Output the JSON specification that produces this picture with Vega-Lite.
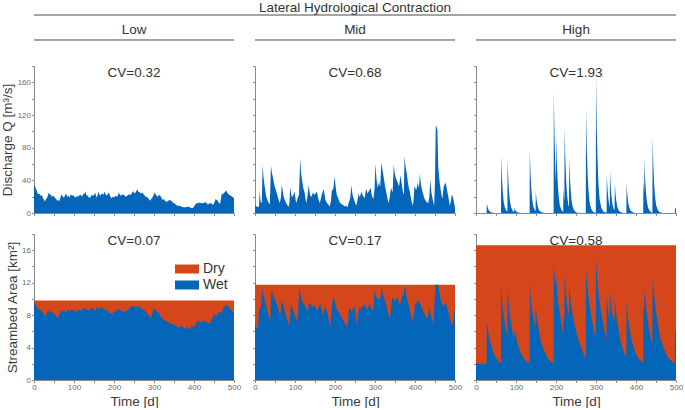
{
"$schema": "https://vega.github.io/schema/vega-lite/v6.json",
"padding": {"left": 0, "top": 0, "right": 0, "bottom": 0},
"background": "white",
"bounds": "flush",
"spacing": 5,
"config": {
 "view": {"stroke": null},
 "font": "Liberation Sans",
 "axis": {"domainColor": "#8a8a8a", "tickColor": "#8a8a8a", "tickSize": 2.5, "labelFontSize": 8, "labelColor": "#6b6b6b", "labelPadding": 1, "titleFontSize": 13.5, "titleFontWeight": "normal", "titleColor": "#3a3a3a", "grid": false, "labelFlush": false, "labelOverlap": false, "labelBound": false, "tickCount": 50, "format": "d"},
 "axisY": {"titlePadding": 2.5},
 "axisX": {"titlePadding": 3},
 "text": {"font": "Liberation Sans"}
},
"datasets": {
 "cv": [
  {"c": "Low", "r": "Q", "label": "CV=0.32"}, {"c": "Mid", "r": "Q", "label": "CV=0.68"}, {"c": "High", "r": "Q", "label": "CV=1.93"},
  {"c": "Low", "r": "A", "label": "CV=0.07"}, {"c": "Mid", "r": "A", "label": "CV=0.17"}, {"c": "High", "r": "A", "label": "CV=0.58"}
 ],
 "dL": [{"t": 0, "a": 9.8}, {"t": 500, "a": 9.8}],
 "dM": [{"t": 0, "a": 11.75}, {"t": 500, "a": 11.75}],
 "dH": [{"t": 0, "a": 16.6}, {"t": 500, "a": 16.6}],
 "qL": [
  {"t":0,"q":34},{"t":2,"q":33},{"t":4,"q":31},{"t":7,"q":27},{"t":10,"q":23},{"t":13,"q":24},{"t":16,"q":21},{"t":19,"q":22},{"t":22,"q":19},{"t":25,"q":16},{"t":27,"q":14},{"t":30,"q":17},{"t":33,"q":19},{"t":35,"q":22},{"t":37,"q":25},{"t":40,"q":22},{"t":42,"q":23},{"t":44,"q":20},{"t":48,"q":21},{"t":52,"q":19},{"t":55,"q":17},{"t":58,"q":15},{"t":61,"q":16},{"t":63,"q":14},{"t":66,"q":19},{"t":69,"q":23},{"t":72,"q":20},{"t":75,"q":19},{"t":78,"q":22},{"t":80,"q":24},{"t":83,"q":20},{"t":86,"q":21},{"t":89,"q":19},{"t":92,"q":23},{"t":95,"q":21},{"t":98,"q":22},{"t":101,"q":20},{"t":105,"q":19},{"t":108,"q":21},{"t":111,"q":20},{"t":114,"q":22},{"t":117,"q":22},{"t":120,"q":20},{"t":124,"q":24},{"t":126,"q":23},{"t":128,"q":26.5},{"t":131,"q":22},{"t":134,"q":21},{"t":137,"q":19},{"t":141,"q":19},{"t":144,"q":22},{"t":148,"q":21},{"t":151,"q":23},{"t":153,"q":25},{"t":155,"q":21},{"t":157,"q":19},{"t":160,"q":24},{"t":162,"q":26},{"t":164,"q":22},{"t":166,"q":21},{"t":168,"q":23},{"t":171,"q":24},{"t":174,"q":22},{"t":176,"q":26.5},{"t":178,"q":24},{"t":181,"q":21},{"t":184,"q":23},{"t":187,"q":25},{"t":190,"q":21},{"t":193,"q":18},{"t":196,"q":20},{"t":200,"q":19},{"t":204,"q":21},{"t":208,"q":20},{"t":210,"q":22},{"t":212,"q":25},{"t":215,"q":22},{"t":218,"q":21},{"t":221,"q":23},{"t":225,"q":22},{"t":229,"q":20},{"t":233,"q":21},{"t":237,"q":23},{"t":241,"q":22},{"t":244,"q":24},{"t":248,"q":27},{"t":251,"q":24},{"t":254,"q":25},{"t":256,"q":27},{"t":258,"q":29},{"t":261,"q":26},{"t":265,"q":25},{"t":268,"q":24},{"t":271,"q":25},{"t":274,"q":23},{"t":277,"q":21},{"t":280,"q":20},{"t":284,"q":19},{"t":287,"q":17},{"t":290,"q":15},{"t":293,"q":17},{"t":296,"q":19},{"t":299,"q":22},{"t":302,"q":25},{"t":305,"q":22},{"t":309,"q":20},{"t":312,"q":22},{"t":316,"q":21},{"t":319,"q":18},{"t":322,"q":16},{"t":325,"q":17},{"t":327,"q":15},{"t":330,"q":14},{"t":334,"q":14},{"t":338,"q":16},{"t":343,"q":15},{"t":347,"q":13},{"t":351,"q":12},{"t":355,"q":10},{"t":359,"q":9},{"t":363,"q":9},{"t":368,"q":8},{"t":372,"q":7},{"t":376,"q":7},{"t":380,"q":7},{"t":385,"q":8},{"t":389,"q":7},{"t":393,"q":6},{"t":397,"q":6},{"t":400,"q":8},{"t":403,"q":10},{"t":406,"q":12},{"t":410,"q":12},{"t":414,"q":13},{"t":418,"q":12},{"t":422,"q":12},{"t":426,"q":13},{"t":431,"q":13},{"t":433,"q":11},{"t":435,"q":10},{"t":438,"q":12},{"t":441,"q":12},{"t":445,"q":11},{"t":448,"q":10},{"t":451,"q":13},{"t":454,"q":17},{"t":457,"q":16},{"t":459,"q":15},{"t":462,"q":13},{"t":465,"q":11},{"t":467,"q":16},{"t":469,"q":23},{"t":472,"q":23},{"t":476,"q":25},{"t":478,"q":26},{"t":480,"q":28},{"t":483,"q":25},{"t":486,"q":23},{"t":489,"q":22},{"t":492,"q":21},{"t":496,"q":20},{"t":500,"q":18}
 ],
 "qM": [
  {"t":0,"q":9},{"t":4,"q":8},{"t":7.5,"q":7.5},{"t":10,"q":8},{"t":11.7,"q":27},{"t":14,"q":14},{"t":17,"q":12},{"t":19,"q":59},{"t":21,"q":45},{"t":24,"q":33},{"t":28,"q":20},{"t":32.5,"q":14},{"t":37,"q":10},{"t":40,"q":58},{"t":42,"q":50},{"t":45,"q":43},{"t":49,"q":33},{"t":53,"q":27},{"t":58,"q":18},{"t":62,"q":12},{"t":65,"q":20},{"t":67,"q":35},{"t":70,"q":25},{"t":72,"q":19},{"t":78,"q":12},{"t":84,"q":7.5},{"t":86,"q":12},{"t":88,"q":31},{"t":92,"q":19},{"t":96,"q":22},{"t":99,"q":26},{"t":101,"q":18},{"t":103,"q":12},{"t":107,"q":19},{"t":110,"q":22},{"t":113,"q":67},{"t":115,"q":50},{"t":118,"q":39},{"t":121,"q":30},{"t":124,"q":25},{"t":128,"q":12},{"t":131,"q":20},{"t":134,"q":34},{"t":138,"q":21},{"t":141,"q":20},{"t":145,"q":25},{"t":148,"q":22},{"t":151,"q":24},{"t":155,"q":26},{"t":158,"q":18},{"t":162,"q":12},{"t":165,"q":18},{"t":167,"q":23},{"t":172,"q":29},{"t":176,"q":16},{"t":180,"q":12},{"t":184,"q":10},{"t":187,"q":8},{"t":190,"q":15},{"t":192,"q":27},{"t":196,"q":30},{"t":199,"q":45},{"t":201,"q":35},{"t":204,"q":23},{"t":208,"q":18},{"t":212,"q":13},{"t":216,"q":11},{"t":220,"q":10},{"t":224,"q":8},{"t":228,"q":9},{"t":231,"q":7},{"t":234,"q":12},{"t":238,"q":18},{"t":241,"q":34},{"t":244,"q":22},{"t":247,"q":17},{"t":253,"q":9},{"t":256,"q":15},{"t":259,"q":24},{"t":262,"q":19},{"t":266,"q":26},{"t":270,"q":21},{"t":274,"q":18},{"t":278,"q":30},{"t":281,"q":24},{"t":285,"q":27},{"t":289,"q":31},{"t":292,"q":21},{"t":296,"q":17},{"t":299,"q":30},{"t":301,"q":60},{"t":304,"q":40},{"t":307,"q":31},{"t":310,"q":38},{"t":313,"q":32},{"t":316,"q":62},{"t":318,"q":55},{"t":321,"q":46},{"t":325,"q":33},{"t":328,"q":26},{"t":331,"q":18},{"t":334,"q":12},{"t":337,"q":20},{"t":340,"q":31},{"t":344,"q":25},{"t":347,"q":59},{"t":349,"q":50},{"t":352,"q":43},{"t":357,"q":37},{"t":360,"q":32},{"t":364,"q":46},{"t":367,"q":35},{"t":370,"q":25},{"t":372,"q":22},{"t":374,"q":70},{"t":376,"q":58},{"t":379,"q":50},{"t":383,"q":35},{"t":387,"q":26},{"t":391,"q":15},{"t":395,"q":9},{"t":397,"q":20},{"t":399,"q":33},{"t":403,"q":28},{"t":407,"q":37},{"t":410,"q":30},{"t":412,"q":48},{"t":414,"q":38},{"t":417,"q":29},{"t":421,"q":22},{"t":424,"q":17},{"t":428,"q":14},{"t":433,"q":12},{"t":436,"q":20},{"t":438,"q":41},{"t":441,"q":25},{"t":444,"q":17},{"t":448,"q":9},{"t":450,"q":40},{"t":452,"q":108},{"t":454,"q":105},{"t":456,"q":101},{"t":458,"q":58},{"t":461,"q":40},{"t":464,"q":29},{"t":468,"q":17},{"t":470,"q":24},{"t":472,"q":33},{"t":477,"q":37},{"t":480,"q":28},{"t":483,"q":21},{"t":487,"q":9},{"t":490,"q":15},{"t":492,"q":23},{"t":495,"q":19},{"t":498,"q":12},{"t":500,"q":6}
 ],
 "qH": [
  {"t":0,"q":0},{"t":26.5,"q":0},{"t":27,"q":12},{"t":28,"q":9.4},{"t":29,"q":7.2},{"t":31,"q":4.4},{"t":33,"q":2.6},{"t":36,"q":1.2},{"t":40,"q":0.5},{"t":45,"q":0.1},{"t":52,"q":0},
  {"t":62.5,"q":0},{"t":63,"q":70},{"t":64,"q":55},{"t":65,"q":42},{"t":67,"q":26},{"t":69,"q":15},{"t":72,"q":7},{"t":76,"q":2.8},{"t":78.5,"q":1.5},
  {"t":79,"q":65},{"t":80,"q":51},{"t":81,"q":39},{"t":83,"q":24},{"t":85,"q":14},{"t":88,"q":6.5},{"t":92,"q":2.6},{"t":95.5,"q":1.2},
  {"t":96,"q":6},{"t":97,"q":4.7},{"t":98,"q":3.6},{"t":100,"q":2.2},{"t":102,"q":1.3},{"t":105,"q":0.6},{"t":109,"q":0.2},{"t":114,"q":0.06},{"t":121,"q":0},
  {"t":134,"q":0},{"t":134.5,"q":77},{"t":135.5,"q":60},{"t":136.5,"q":46},{"t":138.5,"q":28},{"t":140.5,"q":17},{"t":143.5,"q":7.7},{"t":147.5,"q":3.1},{"t":149,"q":2.4},
  {"t":149.5,"q":27},{"t":150.5,"q":21},{"t":151.5,"q":16},{"t":153.5,"q":10},{"t":155.5,"q":6},{"t":158.5,"q":2.7},{"t":162.5,"q":1.1},{"t":167.5,"q":0.3},{"t":175,"q":0},
  {"t":194,"q":0},{"t":194.5,"q":150},{"t":195.5,"q":117},{"t":196.5,"q":90},{"t":198.5,"q":55},{"t":200,"q":38},
  {"t":200.5,"q":95},{"t":201.5,"q":74},{"t":202.5,"q":57},{"t":204.5,"q":35},{"t":206.5,"q":21},{"t":209.5,"q":9.5},{"t":213.5,"q":3.8},{"t":218,"q":1.3},
  {"t":218.5,"q":29},{"t":219.5,"q":23},{"t":220.5,"q":17},{"t":221,"q":15},
  {"t":221.5,"q":106},{"t":222.5,"q":83},{"t":223.5,"q":64},{"t":225.5,"q":39},{"t":227.5,"q":23},{"t":230.5,"q":11},{"t":232.5,"q":7},
  {"t":233,"q":69},{"t":234,"q":54},{"t":235,"q":41},{"t":237,"q":26},{"t":239,"q":15},{"t":242,"q":7},{"t":246,"q":2.8},{"t":251,"q":0.7},{"t":258,"q":0},
  {"t":274.5,"q":0},{"t":275,"q":130},{"t":276,"q":101},{"t":277,"q":78},{"t":279,"q":48},{"t":281,"q":29},{"t":284,"q":13},{"t":288,"q":5.2},{"t":293,"q":1.3},{"t":299.5,"q":0.3},
  {"t":300,"q":169},{"t":301,"q":132},{"t":302,"q":101},{"t":304,"q":63},{"t":306,"q":37},{"t":309,"q":17},{"t":313,"q":6.8},{"t":318,"q":1.7},{"t":326.5,"q":0.3},
  {"t":327,"q":47},{"t":328,"q":37},{"t":329,"q":28},{"t":331,"q":17},{"t":333,"q":10},{"t":334.5,"q":7},
  {"t":335,"q":52},{"t":336,"q":41},{"t":337,"q":31},{"t":339,"q":19},{"t":341,"q":11},{"t":344,"q":5.2},{"t":346.5,"q":3.5},
  {"t":347,"q":37},{"t":348,"q":29},{"t":349,"q":22},{"t":351,"q":14},{"t":353,"q":8},{"t":356,"q":3.7},{"t":360,"q":1.5},{"t":365,"q":0.4},{"t":372,"q":0},
  {"t":376,"q":0},{"t":376.5,"q":36},{"t":377.5,"q":28},{"t":378.5,"q":22},{"t":380.5,"q":13},{"t":382.5,"q":8},{"t":385.5,"q":3.6},{"t":389.5,"q":1.4},{"t":394.5,"q":0.4},{"t":401,"q":0},
  {"t":418,"q":0},{"t":418.5,"q":40},{"t":419.5,"q":31},{"t":420.5,"q":24},
  {"t":421,"q":67},{"t":422,"q":52},{"t":423,"q":40},{"t":425,"q":25},{"t":427,"q":15},{"t":430,"q":6.7},{"t":434,"q":2.7},{"t":439,"q":0.7},{"t":441,"q":0.4},
  {"t":441.5,"q":93},{"t":442.5,"q":73},{"t":443.5,"q":56},{"t":445.5,"q":34},{"t":447.5,"q":20},{"t":450.5,"q":9.3},{"t":454.5,"q":3.7},{"t":459.5,"q":0.9},{"t":466.5,"q":0},
  {"t":497,"q":0},{"t":497.5,"q":7},{"t":500,"q":5}
 ],
 "aL": [
  {"t":0,"a":9.7},{"t":3,"a":9.4},{"t":6,"a":9.0},{"t":10,"a":8.8},{"t":14,"a":8.6},{"t":18,"a":8.5},{"t":23,"a":8.3},{"t":26,"a":8.0},{"t":29,"a":7.8},{"t":32,"a":8.2},{"t":35,"a":8.6},{"t":38,"a":8.4},{"t":41,"a":8.3},{"t":44,"a":8.5},{"t":48,"a":8.2},{"t":52,"a":8.1},{"t":55,"a":7.9},{"t":60,"a":7.6},{"t":63,"a":8.0},{"t":66,"a":8.5},{"t":70,"a":8.4},{"t":73,"a":8.6},{"t":76,"a":8.5},{"t":80,"a":8.3},{"t":83,"a":8.6},{"t":86,"a":8.7},{"t":91,"a":8.5},{"t":94,"a":8.7},{"t":98,"a":8.6},{"t":102,"a":8.5},{"t":106,"a":8.4},{"t":110,"a":8.6},{"t":114,"a":8.7},{"t":118,"a":8.5},{"t":121,"a":8.6},{"t":124,"a":8.8},{"t":127,"a":8.9},{"t":130,"a":8.6},{"t":133,"a":8.7},{"t":137,"a":8.6},{"t":140,"a":8.5},{"t":144,"a":8.8},{"t":147,"a":8.9},{"t":150,"a":8.6},{"t":153,"a":8.5},{"t":158,"a":9.0},{"t":161,"a":8.8},{"t":165,"a":8.8},{"t":168,"a":9.0},{"t":172,"a":8.9},{"t":176,"a":8.6},{"t":180,"a":8.7},{"t":184,"a":8.5},{"t":188,"a":8.3},{"t":192,"a":8.2},{"t":197,"a":8.2},{"t":201,"a":8.4},{"t":205,"a":8.5},{"t":208,"a":8.7},{"t":211,"a":8.8},{"t":214,"a":8.6},{"t":217,"a":8.6},{"t":221,"a":8.4},{"t":225,"a":8.4},{"t":229,"a":8.5},{"t":234,"a":8.6},{"t":238,"a":8.8},{"t":242,"a":9.0},{"t":245,"a":9.1},{"t":249,"a":9.2},{"t":252,"a":9.0},{"t":255,"a":8.9},{"t":258,"a":9.1},{"t":261,"a":9.1},{"t":265,"a":8.9},{"t":270,"a":8.8},{"t":274,"a":8.6},{"t":278,"a":8.5},{"t":282,"a":8.2},{"t":286,"a":8.0},{"t":289,"a":7.8},{"t":292,"a":7.6},{"t":296,"a":8.3},{"t":299,"a":8.8},{"t":303,"a":8.6},{"t":306,"a":8.5},{"t":309,"a":8.4},{"t":312,"a":8.3},{"t":316,"a":7.9},{"t":320,"a":7.6},{"t":324,"a":7.5},{"t":328,"a":7.3},{"t":332,"a":7.2},{"t":337,"a":7.1},{"t":341,"a":7.0},{"t":345,"a":6.9},{"t":350,"a":6.8},{"t":354,"a":6.7},{"t":358,"a":6.6},{"t":362,"a":6.5},{"t":366,"a":6.7},{"t":370,"a":6.6},{"t":375,"a":6.4},{"t":379,"a":6.3},{"t":382,"a":6.5},{"t":384,"a":6.5},{"t":389,"a":6.2},{"t":392,"a":6.5},{"t":395,"a":6.7},{"t":398,"a":6.6},{"t":401,"a":6.5},{"t":404,"a":6.9},{"t":408,"a":7.3},{"t":412,"a":7.2},{"t":416,"a":7.1},{"t":420,"a":7.3},{"t":425,"a":7.3},{"t":429,"a":7.2},{"t":433,"a":7.1},{"t":437,"a":7.0},{"t":440,"a":6.9},{"t":443,"a":7.3},{"t":446,"a":7.6},{"t":451,"a":8.2},{"t":456,"a":7.8},{"t":459,"a":8.1},{"t":462,"a":8.4},{"t":465,"a":8.3},{"t":468,"a":8.3},{"t":472,"a":8.7},{"t":475,"a":9.0},{"t":478,"a":9.2},{"t":482,"a":9.3},{"t":485,"a":9.1},{"t":488,"a":8.9},{"t":493,"a":8.6},{"t":497,"a":8.4},{"t":500,"a":8.2}
 ],
 "aM": [
  {"t":0,"a":6.8},{"t":3,"a":6.6},{"t":5,"a":6.3},{"t":8,"a":6.5},{"t":10,"a":8.8},{"t":13,"a":8.6},{"t":16,"a":9.5},{"t":18,"a":11.3},{"t":21,"a":10.4},{"t":25,"a":9.8},{"t":28,"a":9.1},{"t":31,"a":8.5},{"t":35,"a":7.7},{"t":38,"a":7.1},{"t":41,"a":11.1},{"t":45,"a":10.6},{"t":48,"a":10.2},{"t":52,"a":9.7},{"t":56,"a":9.2},{"t":60,"a":8.4},{"t":63,"a":7.8},{"t":67,"a":9.9},{"t":70,"a":9.3},{"t":73,"a":8.8},{"t":77,"a":8.0},{"t":81,"a":7.3},{"t":86,"a":6.7},{"t":90,"a":9.4},{"t":94,"a":8.8},{"t":98,"a":8.2},{"t":102,"a":7.6},{"t":105,"a":7.1},{"t":108,"a":8.4},{"t":111,"a":11.5},{"t":114,"a":10.5},{"t":117,"a":9.8},{"t":121,"a":9.5},{"t":125,"a":9.2},{"t":128,"a":8.8},{"t":131,"a":8.4},{"t":134,"a":9.1},{"t":137,"a":9.6},{"t":141,"a":9.2},{"t":144,"a":9.0},{"t":147,"a":9.3},{"t":150,"a":9.1},{"t":155,"a":8.6},{"t":159,"a":8.9},{"t":163,"a":9.4},{"t":166,"a":8.7},{"t":170,"a":8.0},{"t":173,"a":8.6},{"t":176,"a":9.0},{"t":179,"a":8.6},{"t":182,"a":8.2},{"t":185,"a":7.3},{"t":188,"a":6.5},{"t":191,"a":8.2},{"t":194,"a":9.8},{"t":198,"a":10.1},{"t":201,"a":9.4},{"t":204,"a":8.8},{"t":208,"a":8.5},{"t":211,"a":8.2},{"t":215,"a":7.8},{"t":219,"a":7.5},{"t":222,"a":7.2},{"t":226,"a":6.9},{"t":230,"a":6.5},{"t":233,"a":7.6},{"t":236,"a":9.0},{"t":240,"a":8.6},{"t":243,"a":8.4},{"t":246,"a":8.8},{"t":249,"a":9.2},{"t":252,"a":7.8},{"t":255,"a":6.8},{"t":258,"a":8.0},{"t":261,"a":9.0},{"t":264,"a":8.7},{"t":267,"a":9.2},{"t":270,"a":8.9},{"t":274,"a":9.4},{"t":277,"a":9.0},{"t":280,"a":8.6},{"t":283,"a":9.0},{"t":286,"a":9.4},{"t":289,"a":9.1},{"t":292,"a":8.8},{"t":295,"a":8.5},{"t":297,"a":9.5},{"t":299,"a":11.1},{"t":302,"a":10.5},{"t":305,"a":10.0},{"t":309,"a":10.1},{"t":312,"a":9.8},{"t":314,"a":10.3},{"t":316,"a":11.3},{"t":319,"a":10.8},{"t":322,"a":10.2},{"t":326,"a":9.6},{"t":329,"a":9.0},{"t":333,"a":8.2},{"t":337,"a":7.5},{"t":340,"a":8.7},{"t":343,"a":10.2},{"t":346,"a":10.0},{"t":350,"a":9.8},{"t":353,"a":9.9},{"t":356,"a":10.2},{"t":359,"a":9.7},{"t":362,"a":9.2},{"t":366,"a":9.8},{"t":369,"a":10.6},{"t":372,"a":10.3},{"t":374,"a":11.7},{"t":377,"a":10.8},{"t":380,"a":10.0},{"t":384,"a":9.3},{"t":387,"a":8.6},{"t":391,"a":7.8},{"t":395,"a":7.1},{"t":398,"a":8.5},{"t":400,"a":9.4},{"t":405,"a":9.6},{"t":410,"a":9.8},{"t":413,"a":9.4},{"t":416,"a":9.0},{"t":420,"a":8.6},{"t":423,"a":8.2},{"t":427,"a":7.9},{"t":431,"a":7.5},{"t":434,"a":8.3},{"t":436,"a":9.2},{"t":438,"a":8.5},{"t":441,"a":7.8},{"t":446,"a":6.9},{"t":449,"a":9.5},{"t":451,"a":11.75},{"t":458,"a":11.75},{"t":461,"a":10.8},{"t":465,"a":9.8},{"t":468,"a":9.4},{"t":471,"a":9.0},{"t":474,"a":9.3},{"t":477,"a":9.6},{"t":480,"a":9.0},{"t":483,"a":8.4},{"t":487,"a":7.7},{"t":490,"a":7.1},{"t":494,"a":6.7},{"t":496,"a":7.6},{"t":498,"a":8.6},{"t":500,"a":8.4}
 ],
 "aH": [
  {"t":0,"a":2},{"t":26.5,"a":2},{"t":27,"a":7.3},{"t":30,"a":6.2},{"t":33,"a":5.3},{"t":37,"a":4.4},{"t":41.7,"a":3.7},{"t":46,"a":3.1},{"t":50,"a":2.7},{"t":55,"a":2.4},{"t":58,"a":2.25},{"t":62.5,"a":2.1},
  {"t":63,"a":11.6},{"t":65,"a":10.1},{"t":66.7,"a":9.0},{"t":69,"a":8.1},{"t":71,"a":7.4},{"t":74,"a":6.5},{"t":76.7,"a":5.7},{"t":78.5,"a":5.5},
  {"t":79,"a":11.4},{"t":81,"a":9.9},{"t":83,"a":8.6},{"t":86,"a":7.5},{"t":89,"a":6.6},{"t":92,"a":5.6},{"t":94,"a":4.9},{"t":96,"a":6.1},{"t":98,"a":5.7},{"t":100,"a":5.3},{"t":104,"a":4.5},{"t":108,"a":3.9},{"t":112,"a":3.3},{"t":117,"a":2.9},{"t":121,"a":2.6},{"t":125,"a":2.3},{"t":129,"a":2.2},{"t":134,"a":2.1},
  {"t":134.5,"a":11.9},{"t":136.5,"a":10.2},{"t":139,"a":9.0},{"t":142,"a":8.0},{"t":146,"a":7.0},{"t":149,"a":6.6},
  {"t":149.5,"a":9.0},{"t":151.5,"a":8.0},{"t":154,"a":7.0},{"t":158,"a":5.8},{"t":162.5,"a":4.7},{"t":167,"a":4.0},{"t":171,"a":3.5},{"t":175,"a":3.1},{"t":179,"a":2.7},{"t":184,"a":2.4},{"t":189,"a":2.2},{"t":194,"a":2.1},
  {"t":194.5,"a":14.1},{"t":196,"a":13.2},{"t":198,"a":12.2},{"t":200,"a":11.6},{"t":200.5,"a":12.7},{"t":202,"a":11.7},{"t":204,"a":10.2},{"t":207,"a":9.0},{"t":211,"a":7.8},{"t":214,"a":6.7},{"t":216.7,"a":5.9},{"t":218,"a":5.6},
  {"t":218.5,"a":8.2},{"t":220,"a":7.6},{"t":221,"a":7.3},
  {"t":221.5,"a":12.9},{"t":223,"a":11.8},{"t":225,"a":10.7},{"t":227,"a":9.7},{"t":229,"a":8.8},{"t":232.5,"a":7.9},
  {"t":233,"a":11.5},{"t":235,"a":10.5},{"t":237.5,"a":9.4},{"t":241,"a":8.1},{"t":246,"a":7.0},{"t":250,"a":6.1},{"t":254,"a":5.3},{"t":258,"a":4.7},{"t":262.5,"a":4.1},{"t":267,"a":3.5},{"t":271,"a":2.9},{"t":274.5,"a":2.7},
  {"t":275,"a":13.6},{"t":277,"a":12.3},{"t":279,"a":11.3},{"t":282,"a":10.0},{"t":286,"a":8.6},{"t":289,"a":7.6},{"t":292,"a":6.8},{"t":295,"a":6.0},{"t":299.5,"a":5.4},
  {"t":300,"a":14.7},{"t":302,"a":13.2},{"t":304,"a":11.9},{"t":307,"a":10.5},{"t":311,"a":9.0},{"t":315,"a":7.7},{"t":319,"a":6.6},{"t":322,"a":5.9},{"t":326.5,"a":5.0},
  {"t":327,"a":10.2},{"t":329,"a":9.2},{"t":332,"a":8.0},{"t":334.5,"a":7.2},
  {"t":335,"a":10.9},{"t":337,"a":9.7},{"t":339,"a":8.6},{"t":342,"a":7.8},{"t":346.5,"a":7.1},
  {"t":347,"a":9.8},{"t":350,"a":8.4},{"t":352.5,"a":7.4},{"t":356,"a":6.3},{"t":361,"a":4.9},{"t":365,"a":4.1},{"t":369,"a":3.5},{"t":372,"a":3.2},{"t":376,"a":2.9},
  {"t":376.5,"a":9.6},{"t":378.5,"a":8.5},{"t":381,"a":7.4},{"t":384,"a":6.3},{"t":387.5,"a":5.3},{"t":391,"a":4.6},{"t":396,"a":3.7},{"t":400,"a":3.2},{"t":404,"a":2.8},{"t":408,"a":2.55},{"t":412.5,"a":2.3},{"t":418,"a":2.1},
  {"t":418.5,"a":9.0},{"t":420.5,"a":8.7},{"t":421,"a":11.1},{"t":422.5,"a":10.3},{"t":424,"a":9.8},{"t":426,"a":8.6},{"t":429,"a":7.4},{"t":432,"a":6.3},{"t":436,"a":5.3},{"t":441,"a":4.4},
  {"t":441.5,"a":12.5},{"t":443.5,"a":11.2},{"t":446,"a":10.2},{"t":450,"a":8.5},{"t":454,"a":7.0},{"t":458,"a":5.8},{"t":462.5,"a":4.9},{"t":467,"a":4.2},{"t":471,"a":3.7},{"t":475,"a":3.2},{"t":479,"a":2.9},{"t":483,"a":2.6},{"t":487.5,"a":2.4},{"t":492,"a":2.2},{"t":497,"a":2.1},
  {"t":497.5,"a":6.1},{"t":500,"a":5.9}
 ]
},
"vconcat": [
 {
  "width": 642, "height": 15,
  "data": {"values": [{"label": "Lateral Hydrological Contraction"}]},
  "layer": [
   {"mark": {"type": "rule", "color": "#4a4a4a", "strokeWidth": 1},
    "encoding": {"x": {"datum": 0, "type": "quantitative", "scale": {"domain": [0, 1]}, "axis": null}, "x2": {"datum": 1},
                 "y": {"datum": 0, "type": "quantitative", "scale": {"domain": [0, 1]}, "axis": null}}},
   {"mark": {"type": "text", "fontSize": 13.5, "color": "#333333", "baseline": "middle"},
    "encoding": {"x": {"datum": 0.5, "type": "quantitative"}, "y": {"datum": 0.5, "type": "quantitative"}, "text": {"field": "label"}}}
  ]
 },
 {
  "columns": 3,
  "spacing": {"row": 21, "column": 21},
  "bounds": "flush",
  "resolve": {"scale": {"color": "independent"}, "legend": {"color": "independent"}},
  "concat": [
   {"width": 200, "height": 24.5, "data": {"values": [{"label": "Low"}]},
    "layer": [
     {"mark": {"type": "rule", "color": "#4a4a4a", "strokeWidth": 1},
      "encoding": {"x": {"datum": 0, "type": "quantitative", "scale": {"domain": [0, 1]}, "axis": null}, "x2": {"datum": 1},
                   "y": {"datum": 0.184, "type": "quantitative", "scale": {"domain": [0, 1]}, "axis": null}}},
     {"mark": {"type": "text", "fontSize": 13.5, "color": "#333333", "baseline": "middle"},
      "encoding": {"x": {"datum": 0.5, "type": "quantitative"}, "y": {"datum": 0.592, "type": "quantitative"}, "text": {"field": "label"}}}
    ]},
   {"width": 200, "height": 24.5, "data": {"values": [{"label": "Mid"}]},
    "layer": [
     {"mark": {"type": "rule", "color": "#4a4a4a", "strokeWidth": 1},
      "encoding": {"x": {"datum": 0, "type": "quantitative", "scale": {"domain": [0, 1]}, "axis": null}, "x2": {"datum": 1},
                   "y": {"datum": 0.184, "type": "quantitative", "scale": {"domain": [0, 1]}, "axis": null}}},
     {"mark": {"type": "text", "fontSize": 13.5, "color": "#333333", "baseline": "middle"},
      "encoding": {"x": {"datum": 0.5, "type": "quantitative"}, "y": {"datum": 0.592, "type": "quantitative"}, "text": {"field": "label"}}}
    ]},
   {"width": 200, "height": 24.5, "data": {"values": [{"label": "High"}]},
    "layer": [
     {"mark": {"type": "rule", "color": "#4a4a4a", "strokeWidth": 1},
      "encoding": {"x": {"datum": 0, "type": "quantitative", "scale": {"domain": [0, 1]}, "axis": null}, "x2": {"datum": 1},
                   "y": {"datum": 0.184, "type": "quantitative", "scale": {"domain": [0, 1]}, "axis": null}}},
     {"mark": {"type": "text", "fontSize": 13.5, "color": "#333333", "baseline": "middle"},
      "encoding": {"x": {"datum": 0.5, "type": "quantitative"}, "y": {"datum": 0.592, "type": "quantitative"}, "text": {"field": "label"}}}
    ]},
   {"width": 200, "height": 147,
    "layer": [
     {"data": {"name": "qL"}, "mark": {"type": "area", "color": "#0565b9", "interpolate": "linear"},
      "encoding": {
       "x": {"field": "t", "type": "quantitative", "scale": {"domain": [0, 500], "nice": false}, "axis": {"values": [0,50,100,150,200,250,300,350,400,450,500], "tickCount": 50, "labels": false, "title": null}},
       "y": {"field": "q", "type": "quantitative", "scale": {"domain": [0, 180], "nice": false}, "axis": {"values": [0,20,40,60,80,100,120,140,160,180], "tickCount": 50, "format": "d", "labelOverlap": false, "labelExpr": "datum.value % 40 === 0 ? datum.label : ''", "title": "Discharge Q [m³/s]"}}}},
     {"data": {"name": "cv"}, "transform": [{"filter": "datum.c === 'Low' && datum.r === 'Q'"}],
      "mark": {"type": "text", "fontSize": 13.5, "color": "#333333", "baseline": "middle"},
      "encoding": {"x": {"datum": 250, "type": "quantitative"}, "y": {"datum": 172, "type": "quantitative"}, "text": {"field": "label"}}}
    ]},
   {"width": 200, "height": 147,
    "layer": [
     {"data": {"name": "qM"}, "mark": {"type": "area", "color": "#0565b9", "interpolate": "linear"},
      "encoding": {
       "x": {"field": "t", "type": "quantitative", "scale": {"domain": [0, 500], "nice": false}, "axis": {"values": [0,50,100,150,200,250,300,350,400,450,500], "tickCount": 50, "labels": false, "title": null}},
       "y": {"field": "q", "type": "quantitative", "scale": {"domain": [0, 180], "nice": false}, "axis": {"values": [0,20,40,60,80,100,120,140,160,180], "tickCount": 50, "labels": false, "title": null}}}},
     {"data": {"name": "cv"}, "transform": [{"filter": "datum.c === 'Mid' && datum.r === 'Q'"}],
      "mark": {"type": "text", "fontSize": 13.5, "color": "#333333", "baseline": "middle"},
      "encoding": {"x": {"datum": 250, "type": "quantitative"}, "y": {"datum": 172, "type": "quantitative"}, "text": {"field": "label"}}}
    ]},
   {"width": 200, "height": 147,
    "layer": [
     {"data": {"name": "qH"}, "mark": {"type": "area", "color": "#0565b9", "interpolate": "linear"},
      "encoding": {
       "x": {"field": "t", "type": "quantitative", "scale": {"domain": [0, 500], "nice": false}, "axis": {"values": [0,50,100,150,200,250,300,350,400,450,500], "tickCount": 50, "labels": false, "title": null}},
       "y": {"field": "q", "type": "quantitative", "scale": {"domain": [0, 180], "nice": false}, "axis": {"values": [0,20,40,60,80,100,120,140,160,180], "tickCount": 50, "labels": false, "title": null}}}},
     {"data": {"name": "cv"}, "transform": [{"filter": "datum.c === 'High' && datum.r === 'Q'"}],
      "mark": {"type": "text", "fontSize": 13.5, "color": "#333333", "baseline": "middle"},
      "encoding": {"x": {"datum": 250, "type": "quantitative"}, "y": {"datum": 172, "type": "quantitative"}, "text": {"field": "label"}}}
    ]},
   {"width": 200, "height": 146,
    "layer": [
     {"data": {"name": "dL"}, "mark": {"type": "area", "interpolate": "linear"},
      "encoding": {
       "x": {"field": "t", "type": "quantitative", "scale": {"domain": [0, 500], "nice": false}, "axis": {"values": [0,50,100,150,200,250,300,350,400,450,500], "tickCount": 50, "format": "d", "labelOverlap": false, "labelExpr": "datum.value % 100 === 0 ? datum.label : ''", "title": "Time [d]"}},
       "y": {"field": "a", "type": "quantitative", "scale": {"domain": [0, 18], "nice": false}, "axis": {"values": [0,2,4,6,8,10,12,14,16,18], "tickCount": 50, "format": "d", "labelOverlap": false, "labelExpr": "datum.value % 4 === 0 ? datum.label : ''", "title": "Streambed Area [km²]"}},
       "color": {"datum": "Dry", "scale": {"domain": ["Dry", "Wet"], "range": ["#d5461a", "#0565b9"]},
                 "legend": {"orient": "none", "legendX": 145.5, "legendY": 27.5, "title": null, "direction": "vertical", "symbolType": "M-1.6,-0.6H1.6V0.6H-1.6Z", "symbolSize": 225, "symbolStrokeWidth": 0, "symbolOpacity": 1, "labelFontSize": 14, "labelColor": "#333333", "labelFont": "Liberation Sans", "rowPadding": 1, "labelOffset": 8.5}}}},
     {"data": {"name": "aL"}, "mark": {"type": "area", "interpolate": "linear"},
      "encoding": {"x": {"field": "t", "type": "quantitative"}, "y": {"field": "a", "type": "quantitative"}, "color": {"datum": "Wet"}}},
     {"data": {"name": "cv"}, "transform": [{"filter": "datum.c === 'Low' && datum.r === 'A'"}],
      "mark": {"type": "text", "fontSize": 13.5, "color": "#333333", "baseline": "middle"},
      "encoding": {"x": {"datum": 250, "type": "quantitative"}, "y": {"datum": 17.1, "type": "quantitative"}, "text": {"field": "label"}}}
    ]},
   {"width": 200, "height": 146,
    "layer": [
     {"data": {"name": "dM"}, "mark": {"type": "area", "interpolate": "linear"},
      "encoding": {
       "x": {"field": "t", "type": "quantitative", "scale": {"domain": [0, 500], "nice": false}, "axis": {"values": [0,50,100,150,200,250,300,350,400,450,500], "tickCount": 50, "format": "d", "labelOverlap": false, "labelExpr": "datum.value % 100 === 0 ? datum.label : ''", "title": "Time [d]"}},
       "y": {"field": "a", "type": "quantitative", "scale": {"domain": [0, 18], "nice": false}, "axis": {"values": [0,2,4,6,8,10,12,14,16,18], "tickCount": 50, "labels": false, "title": null}},
       "color": {"datum": "Dry", "scale": {"domain": ["Dry", "Wet"], "range": ["#d5461a", "#0565b9"]}, "legend": null}}},
     {"data": {"name": "aM"}, "mark": {"type": "area", "interpolate": "linear"},
      "encoding": {"x": {"field": "t", "type": "quantitative"}, "y": {"field": "a", "type": "quantitative"}, "color": {"datum": "Wet", "legend": null}}},
     {"data": {"name": "cv"}, "transform": [{"filter": "datum.c === 'Mid' && datum.r === 'A'"}],
      "mark": {"type": "text", "fontSize": 13.5, "color": "#333333", "baseline": "middle"},
      "encoding": {"x": {"datum": 250, "type": "quantitative"}, "y": {"datum": 17.1, "type": "quantitative"}, "text": {"field": "label"}}}
    ]},
   {"width": 200, "height": 146,
    "layer": [
     {"data": {"name": "dH"}, "mark": {"type": "area", "interpolate": "linear"},
      "encoding": {
       "x": {"field": "t", "type": "quantitative", "scale": {"domain": [0, 500], "nice": false}, "axis": {"values": [0,50,100,150,200,250,300,350,400,450,500], "tickCount": 50, "format": "d", "labelOverlap": false, "labelExpr": "datum.value % 100 === 0 ? datum.label : ''", "title": "Time [d]"}},
       "y": {"field": "a", "type": "quantitative", "scale": {"domain": [0, 18], "nice": false}, "axis": {"values": [0,2,4,6,8,10,12,14,16,18], "tickCount": 50, "labels": false, "title": null}},
       "color": {"datum": "Dry", "scale": {"domain": ["Dry", "Wet"], "range": ["#d5461a", "#0565b9"]}, "legend": null}}},
     {"data": {"name": "aH"}, "mark": {"type": "area", "interpolate": "linear"},
      "encoding": {"x": {"field": "t", "type": "quantitative"}, "y": {"field": "a", "type": "quantitative"}, "color": {"datum": "Wet", "legend": null}}},
     {"data": {"name": "cv"}, "transform": [{"filter": "datum.c === 'High' && datum.r === 'A'"}],
      "mark": {"type": "text", "fontSize": 13.5, "color": "#333333", "baseline": "middle"},
      "encoding": {"x": {"datum": 250, "type": "quantitative"}, "y": {"datum": 17.1, "type": "quantitative"}, "text": {"field": "label"}}}
    ]}
  ]
 }
]
}
